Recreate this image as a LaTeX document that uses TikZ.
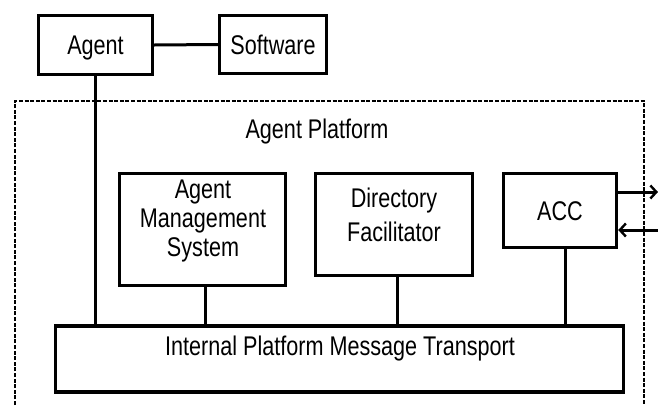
\documentclass[tikz,border=0pt]{standalone}
\usepackage{fontspec}
\setmainfont{Liberation Sans}[FakeStretch=0.8]
\usetikzlibrary{arrows.meta}
\begin{document}
\begin{tikzpicture}[x=1pt,y=-1pt,
  box/.style={draw, line width=3.4pt, inner sep=0pt},
  txt/.style={font=\fontsize{27}{29}\selectfont, align=center, inner sep=0pt},
  one/.style={font=\fontsize{27}{29}\selectfont, text height=19.3pt, text depth=0pt},
  conn/.style={line width=3pt},
  border/.style={line width=2.4pt, dash pattern=on 4pt off 1.6pt},
  barb/.style={-{Straight Barb[length=6pt,width=13pt,line width=2.4pt]}}
]
\useasboundingbox (0,0) rectangle (658,405);
\draw[border] (15,405) -- (15,101) -- (644,101) -- (644,405);

\node[box, one, minimum width=114pt, minimum height=59pt] (agent) at (95.5,45) {Agent};
\node[box, one, minimum width=107pt, minimum height=58pt] (software) at (273,44.5) {Software};
\node[txt] (platform) at (317,132) {Agent Platform};

\node[box, minimum width=166pt, minimum height=112pt] (ams) at (202.5,229.5) {};
\node[txt] (amstxt) at (203,221) {Agent\\Management\\System};

\node[box, minimum width=157pt, minimum height=102pt] (df) at (394,224.5) {};
\node[txt, font=\fontsize{27}{34}\selectfont] (dftxt) at (394,215) {Directory\\Facilitator};

\node[box, one, minimum width=113pt, minimum height=74pt] (acc) at (560,210.5) {ACC};

\node[box, minimum width=568pt, minimum height=66pt] (ipmt) at (339.5,359) {};
\node[txt] (ipmttxt) at (340,349) {Internal Platform Message Transport};

\coordinate (outpt) at (658,192);
\coordinate (inpt) at (658,230);

\draw[conn] (agent.east) -- (software.west);
\draw[conn] (agent.south) -- (agent.south |- ipmt.north);
\draw[conn] ([xshift=3pt]ams.south) -- ([xshift=3pt]ams.south |- ipmt.north);
\draw[conn] ([xshift=3pt]df.south) -- ([xshift=3pt]df.south |- ipmt.north);
\draw[conn] ([xshift=5pt]acc.south) -- ([xshift=5pt]acc.south |- ipmt.north);
\draw[conn, barb] (acc.east |- outpt) -- (outpt);
\draw[conn, barb] (inpt) -- (acc.east |- inpt);
\end{tikzpicture}
\end{document}
